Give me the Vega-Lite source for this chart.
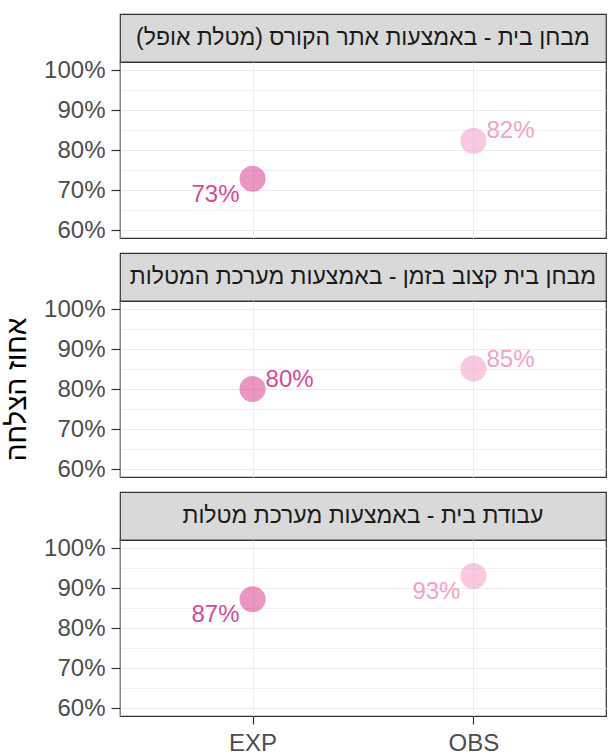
{
  "$schema": "https://vega.github.io/schema/vega-lite/v6.json",
  "padding": {"left": 3, "top": 13, "right": 0, "bottom": 0},
  "data": {
    "values": [
      {"panel": 1, "task": "מבחן בית - באמצעות אתר הקורס (מטלת אופל)‏", "group": "EXP", "rate": 0.728},
      {"panel": 1, "task": "מבחן בית - באמצעות אתר הקורס (מטלת אופל)‏", "group": "OBS", "rate": 0.823},
      {"panel": 2, "task": "מבחן בית קצוב בזמן - באמצעות מערכת המטלות", "group": "EXP", "rate": 0.8},
      {"panel": 2, "task": "מבחן בית קצוב בזמן - באמצעות מערכת המטלות", "group": "OBS", "rate": 0.851},
      {"panel": 3, "task": "עבודת בית - באמצעות מערכת מטלות", "group": "EXP", "rate": 0.872},
      {"panel": 3, "task": "עבודת בית - באמצעות מערכת מטלות", "group": "OBS", "rate": 0.93}
    ]
  },
  "spacing": 9,
  "vconcat": [
    {
      "spacing": 0,
      "bounds": "flush",
      "vconcat": [
        {
          "width": 486, "height": 48,
          "view": {"fill": "#d9d9d9", "stroke": "#333333", "strokeWidth": 1.2},
          "transform": [{"filter": "datum.panel === 1 && datum.group === 'EXP'"}],
          "mark": {"type": "text", "fontSize": 23, "color": "#1a1a1a"},
          "encoding": {"text": {"field": "task", "type": "nominal"}}
        },
        {
          "width": 486, "height": 176,
          "transform": [{"filter": "datum.panel === 1"}],
          "encoding": {
            "x": {"field": "group", "type": "nominal", "scale": {"type": "point", "padding": 0.6, "domain": ["EXP", "OBS"]},
                  "axis": {"labels": false, "ticks": false, "domain": false, "title": null, "grid": true}},
            "y": {"field": "rate", "type": "quantitative", "scale": {"domain": [0.58, 1.02], "nice": false, "zero": false},
                  "axis": {"values": [0.6, 0.65, 0.7, 0.75, 0.8, 0.85, 0.9, 0.95, 1.0], "format": ".0%", "title": null,
                           "labelExpr": "round(datum.value*100) % 10 === 0 ? datum.label : ''",
                           "gridWidth": {"condition": {"test": "round(datum.value*100) % 10 === 0", "value": 1.2}, "value": 0.8},
                           "tickOpacity": {"condition": {"test": "round(datum.value*100) % 10 === 0", "value": 1}, "value": 0}}},
            "color": {"field": "group", "type": "nominal", "scale": {"domain": ["EXP", "OBS"], "range": ["#d8408f", "#f39cc6"]}, "legend": null}
          },
          "layer": [
            {"mark": {"type": "point", "filled": true, "size": 680, "opacity": 0.55}},
            {"transform": [{"filter": "datum.group === 'EXP'"}],
             "mark": {"type": "text", "align": "right", "dx": -13, "dy": 16, "fontSize": 24, "opacity": 0.95},
             "encoding": {"text": {"field": "rate", "type": "quantitative", "format": ".0%"}}},
            {"transform": [{"filter": "datum.group === 'OBS'"}],
             "mark": {"type": "text", "align": "left", "dx": 13, "dy": -10, "fontSize": 24, "opacity": 0.95},
             "encoding": {"text": {"field": "rate", "type": "quantitative", "format": ".0%"}}}
          ]
        }
      ]
    },
    {
      "spacing": 0,
      "bounds": "flush",
      "vconcat": [
        {
          "width": 486, "height": 48,
          "view": {"fill": "#d9d9d9", "stroke": "#333333", "strokeWidth": 1.2},
          "transform": [{"filter": "datum.panel === 2 && datum.group === 'EXP'"}],
          "mark": {"type": "text", "fontSize": 23, "color": "#1a1a1a"},
          "encoding": {"text": {"field": "task", "type": "nominal"}}
        },
        {
          "width": 486, "height": 176,
          "transform": [{"filter": "datum.panel === 2"}],
          "encoding": {
            "x": {"field": "group", "type": "nominal", "scale": {"type": "point", "padding": 0.6, "domain": ["EXP", "OBS"]},
                  "axis": {"labels": false, "ticks": false, "domain": false, "title": null, "grid": true}},
            "y": {"field": "rate", "type": "quantitative", "scale": {"domain": [0.58, 1.02], "nice": false, "zero": false},
                  "axis": {"values": [0.6, 0.65, 0.7, 0.75, 0.8, 0.85, 0.9, 0.95, 1.0], "format": ".0%", "title": "אחוז הצלחה",
                           "labelExpr": "round(datum.value*100) % 10 === 0 ? datum.label : ''",
                           "gridWidth": {"condition": {"test": "round(datum.value*100) % 10 === 0", "value": 1.2}, "value": 0.8},
                           "tickOpacity": {"condition": {"test": "round(datum.value*100) % 10 === 0", "value": 1}, "value": 0}}},
            "color": {"field": "group", "type": "nominal", "scale": {"domain": ["EXP", "OBS"], "range": ["#d8408f", "#f39cc6"]}, "legend": null}
          },
          "layer": [
            {"mark": {"type": "point", "filled": true, "size": 680, "opacity": 0.55}},
            {"mark": {"type": "text", "align": "left", "dx": 13, "dy": -9, "fontSize": 24, "opacity": 0.95},
             "encoding": {"text": {"field": "rate", "type": "quantitative", "format": ".0%"}}}
          ]
        }
      ]
    },
    {
      "spacing": 0,
      "bounds": "flush",
      "vconcat": [
        {
          "width": 486, "height": 48,
          "view": {"fill": "#d9d9d9", "stroke": "#333333", "strokeWidth": 1.2},
          "transform": [{"filter": "datum.panel === 3 && datum.group === 'EXP'"}],
          "mark": {"type": "text", "fontSize": 23, "color": "#1a1a1a"},
          "encoding": {"text": {"field": "task", "type": "nominal"}}
        },
        {
          "width": 486, "height": 176,
          "transform": [{"filter": "datum.panel === 3"}],
          "encoding": {
            "x": {"field": "group", "type": "nominal", "scale": {"type": "point", "padding": 0.6, "domain": ["EXP", "OBS"]},
                  "axis": {"domain": false, "title": null, "grid": true, "labelAngle": 0, "labelPadding": 7, "tickSize": 8}},
            "y": {"field": "rate", "type": "quantitative", "scale": {"domain": [0.58, 1.02], "nice": false, "zero": false},
                  "axis": {"values": [0.6, 0.65, 0.7, 0.75, 0.8, 0.85, 0.9, 0.95, 1.0], "format": ".0%", "title": null,
                           "labelExpr": "round(datum.value*100) % 10 === 0 ? datum.label : ''",
                           "gridWidth": {"condition": {"test": "round(datum.value*100) % 10 === 0", "value": 1.2}, "value": 0.8},
                           "tickOpacity": {"condition": {"test": "round(datum.value*100) % 10 === 0", "value": 1}, "value": 0}}},
            "color": {"field": "group", "type": "nominal", "scale": {"domain": ["EXP", "OBS"], "range": ["#d8408f", "#f39cc6"]}, "legend": null}
          },
          "layer": [
            {"mark": {"type": "point", "filled": true, "size": 680, "opacity": 0.55}},
            {"mark": {"type": "text", "align": "right", "dx": -13, "dy": 16, "fontSize": 24, "opacity": 0.95},
             "encoding": {"text": {"field": "rate", "type": "quantitative", "format": ".0%"}}}
          ]
        }
      ]
    }
  ],
  "config": {
    "font": "Liberation Sans",
    "view": {"stroke": "#333333", "strokeWidth": 1.2},
    "axis": {
      "labelFont": "Liberation Sans", "labelFontSize": 24, "labelColor": "#4d4d4d",
      "tickColor": "#333333", "tickSize": 9, "tickWidth": 1.2, "labelPadding": 6,
      "gridColor": "#ebebeb", "labelOverlap": false,
      "titleFont": "Liberation Sans", "titleFontSize": 28, "titleFontWeight": "normal", "titleColor": "#000000", "titlePadding": 12
    }
  }
}
